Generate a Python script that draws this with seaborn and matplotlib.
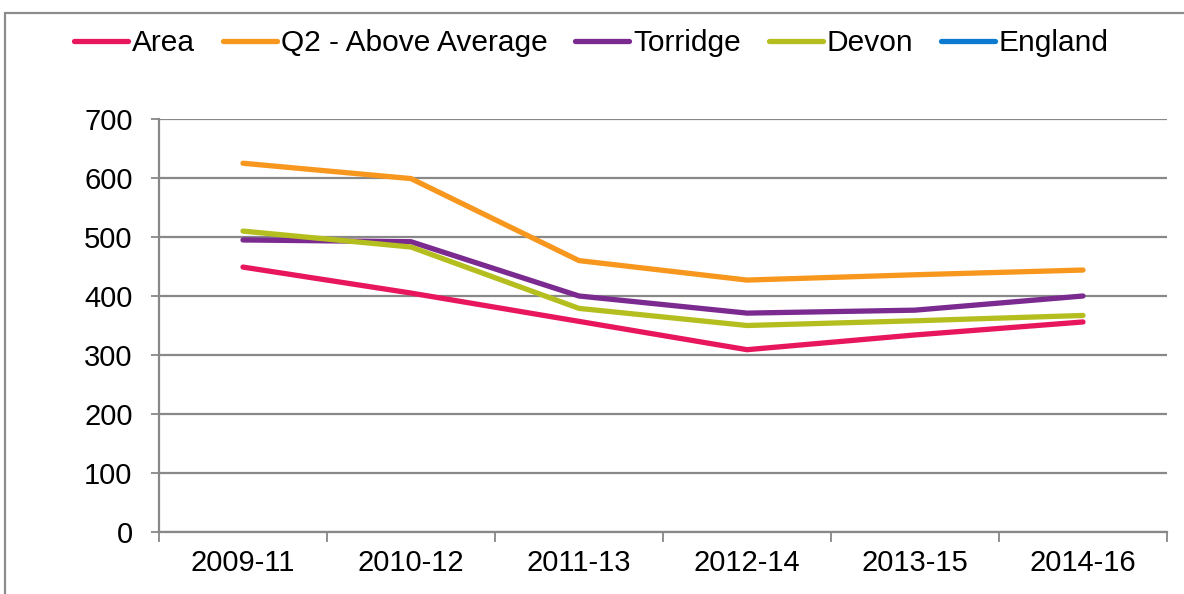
import numpy as np
import pandas as pd
import matplotlib
matplotlib.use("Agg")
import matplotlib.pyplot as plt
from matplotlib.patches import Rectangle
from matplotlib.lines import Line2D
import seaborn as sns

periods = ["2009-11", "2010-12", "2011-13", "2012-14", "2013-15", "2014-16"]
area = [449, 405, 357, 309, 334, 356]
q2_above_average = [625, 599, 460, 427, 436, 444]
torridge = [495, 492, 400, 371, 376, 400]
devon = [510, 483, 379, 350, 358, 367]
england = [np.nan] * 6

series_names = ["Area", "Q2 - Above Average", "Torridge", "Devon", "England"]
series_values = [area, q2_above_average, torridge, devon, england]
colors = ["#E8175D", "#F7971D", "#7B2A8F", "#B5BE1F", "#0A7BD1"]

rows = []
for name, vals in zip(series_names, series_values):
    for i, (p, v) in enumerate(zip(periods, vals)):
        rows.append({"period": p, "pos": i, "value": v, "series": name})
df = pd.DataFrame(rows)

sns.set_theme(style="white")
plt.rcParams["font.family"] = ["Liberation Sans", "DejaVu Sans"]
plt.rcParams["text.color"] = "black"
plt.rcParams["xtick.labelcolor"] = "black"
plt.rcParams["ytick.labelcolor"] = "black"

fig = plt.figure(figsize=(11.84, 5.94), dpi=100)
ax = fig.add_axes([159 / 1184, 1 - 532 / 594, (1167 - 159) / 1184, (532 - 119) / 594])

sns.lineplot(data=df.dropna(), x="pos", y="value", hue="series",
             hue_order=series_names, palette=dict(zip(series_names, colors)),
             linewidth=3.8, ax=ax, legend=False, sort=False,
             solid_capstyle="round")

ax.set_xlim(-0.5, len(periods) - 0.5)
ax.set_ylim(0, 700)
ax.set_yticks(range(0, 701, 100))
ax.yaxis.grid(True, color="#888888", linewidth=1.6)
ax.xaxis.grid(False)
ax.set_axisbelow(True)

# category boundaries carry the ticks, labels sit at category centres
ax.set_xticks(np.arange(-0.5, len(periods), 1.0))
ax.set_xticklabels([])
ax.set_xticks(range(len(periods)), minor=True)
ax.set_xticklabels(periods, minor=True)
ax.tick_params(axis="x", which="major", length=7, width=1.3, color="#888888", direction="out", bottom=True)
ax.tick_params(axis="x", which="minor", length=0, pad=12, labelsize=21, labelcolor="black")
ax.tick_params(axis="y", length=6, width=1.3, color="#888888", direction="out", left=True, pad=13,
               labelsize=21, labelcolor="black")
ax.set_xlabel("")
ax.set_ylabel("")

for side in ["top", "right"]:
    ax.spines[side].set_visible(False)
for side in ["left", "bottom"]:
    ax.spines[side].set_color("#888888")
    ax.spines[side].set_linewidth(1.6)

handles = [Line2D([0], [0], color=c, linewidth=3.8, solid_capstyle="round") for c in colors]
fig.legend(handles, series_names, loc="center", bbox_to_anchor=(0.4996, 1 - 43 / 594),
           ncol=5, frameon=False, fontsize=21.5, handlelength=1.8,
           handletextpad=0.13, columnspacing=0.94)

# outer chart frame
fig.patches.append(Rectangle((5 / 1184, -0.1), 1.2, 1 - 13 / 594 + 0.1,
                             transform=fig.transFigure, fill=False,
                             edgecolor="#8c8c8c", linewidth=1.6))

fig.savefig("out.png", dpi=100)
